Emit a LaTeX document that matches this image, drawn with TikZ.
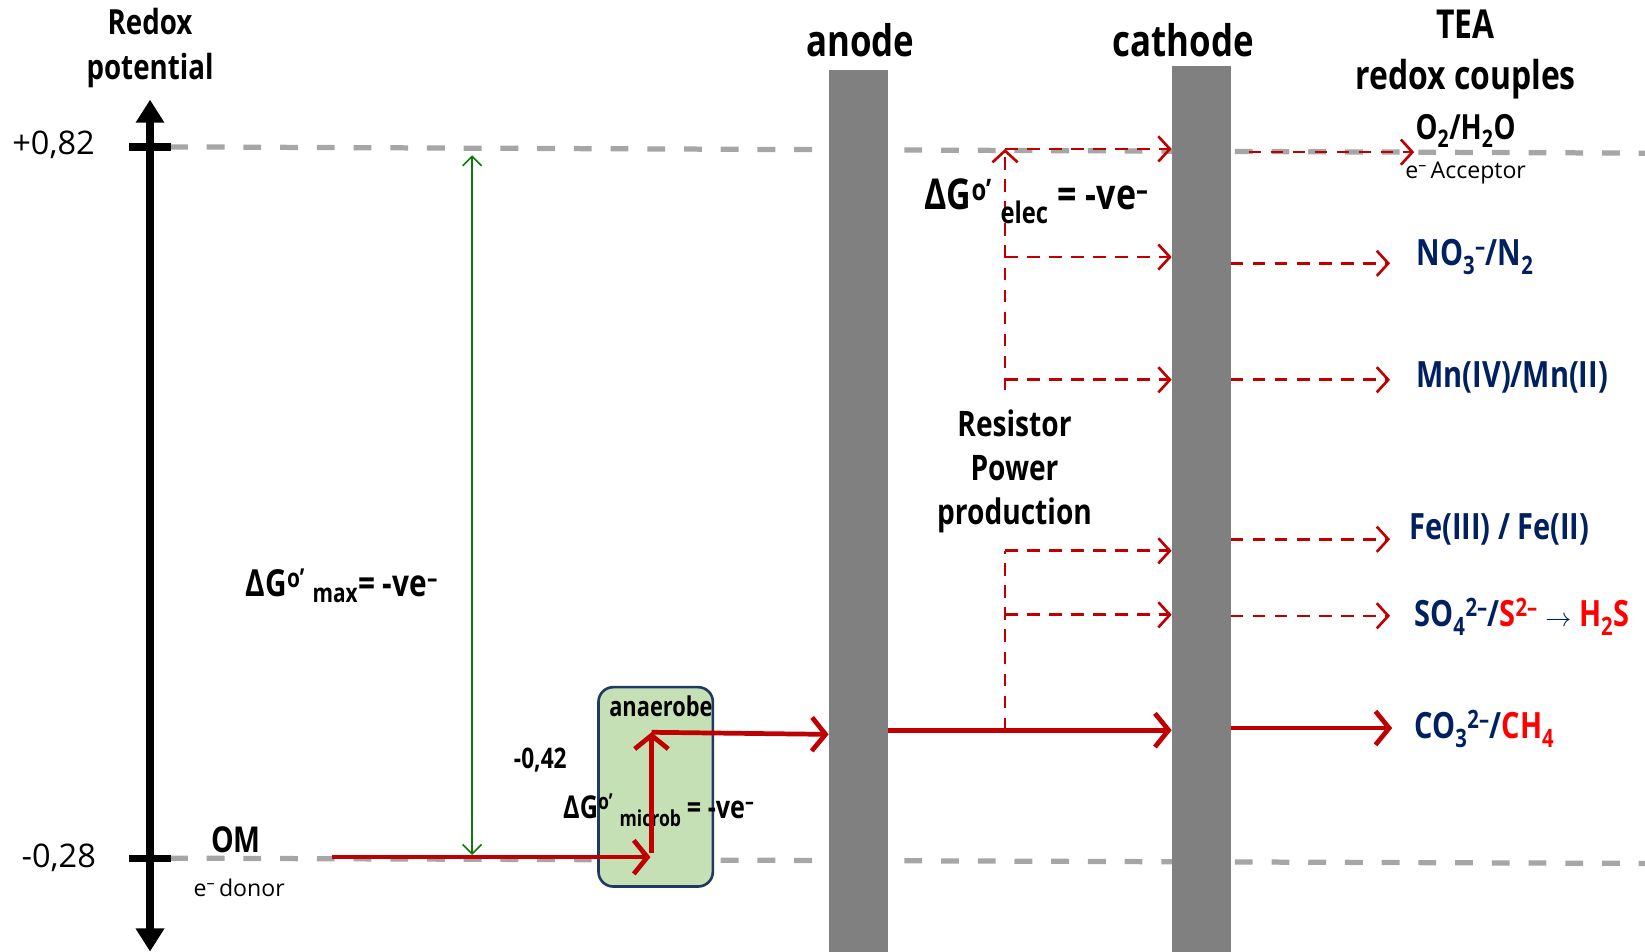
\documentclass[tikz,border=0pt]{standalone}
\usepackage{fontspec}
\setmainfont{Open Sans}[FakeStretch=0.8]
\newfontfamily\plainfont{Open Sans}
\usetikzlibrary{arrows.meta,positioning}
\definecolor{darkred}{HTML}{C00000}
\definecolor{brightred}{HTML}{FF0000}
\definecolor{navy}{HTML}{002060}
\definecolor{elecgray}{HTML}{808080}
\definecolor{linegray}{HTML}{A6A6A6}
\definecolor{boxgreen}{HTML}{C5E0B4}
\definecolor{boxblue}{HTML}{203864}
\definecolor{arrgreen}{HTML}{0A7A0A}
\newcommand{\eminus}{\textsuperscript{–}}

\begin{document}
\begin{tikzpicture}[x=1pt, y=-1pt, every node/.style={inner sep=0pt},
  gridline/.style={linegray, line width=5pt, dash pattern=on 17pt off 18pt},
  axisline/.style={line width=7pt, {Triangle[length=22pt,width=26pt]}-{Triangle[length=22pt,width=26pt]}},
  tickmark/.style={line width=7pt},
  electrode/.style={fill=elecgray, minimum width=56pt},
  redarrow/.style={darkred, line width=4.5pt, -{Straight Barb[length=13pt,width=32pt]}},
  dasharrow/.style={darkred, line width=2.5pt, dash pattern=on 12pt off 9pt, -{Straight Barb[length=11pt,width=24pt]}},
  dashline/.style={darkred, line width=2.5pt, dash pattern=on 12pt off 9pt},
  greenarrow/.style={arrgreen, line width=1.5pt, {Straight Barb[length=9pt,width=18pt]}-{Straight Barb[length=9pt,width=18pt]}},
  microbox/.style={draw=boxblue, line width=2.5pt, fill=boxgreen, rounded corners=14pt, minimum width=109pt, minimum height=190pt},
  axlabel/.style={align=center, font=\bfseries\fontsize{33}{43}\selectfont},
  elabel/.style={font=\bfseries\fontsize{41.5}{50}\selectfont},
  tealabel/.style={align=center, font=\bfseries\fontsize{38}{49}\selectfont},
  potval/.style={font=\plainfont\fontsize{31}{31}\selectfont},
  omlabel/.style={font=\bfseries\fontsize{34}{34}\selectfont},
  note/.style={font=\plainfont\fontsize{22}{22}\selectfont},
  dglabel/.style={font=\bfseries\fontsize{35.5}{35.5}\selectfont},
  dgsmall/.style={font=\bfseries\fontsize{30}{30}\selectfont},
  dgbig/.style={font=\bfseries\fontsize{40.5}{40.5}\selectfont},
  reslabel/.style={align=center, font=\bfseries\fontsize{33.5}{42}\selectfont},
  couple/.style={anchor=west, text=navy, font=\bfseries\fontsize{34.5}{34.5}\selectfont},
  microlabel/.style={font=\bfseries\fontsize{26}{26}\selectfont}]
  \useasboundingbox (0,0) rectangle (1568,907);

  % potential levels
  \coordinate (hi) at (143,140);
  \coordinate (lo) at (143,818);
  \draw[gridline] (162,140) -- (1568,146);
  \draw[gridline] (162,818) -- (1568,823);

  % redox axis
  \coordinate (axtop) at (143,95);
  \coordinate (axbot) at (143,907);
  \draw[axisline] (axbot) -- (axtop);
  \draw[tickmark] ([xshift=-20pt]hi) -- ([xshift=20pt]hi);
  \draw[tickmark] ([xshift=-20pt]lo) -- ([xshift=20pt]lo);
  \node[axlabel] (axname) at (143,46) {Redox\\potential};
  \node[potval] (phi) at (51,138) {+0,82};
  \node[potval] (plo) at (56,818) {-0,28};

  % maximum free energy span
  \coordinate (gtop) at (450,148);
  \coordinate (gbot) at (450,815);
  \draw[greenarrow] (gtop) -- (gbot);
  \node[dglabel] (dgmax) at (326,558) {ΔG\textsuperscript{o’}~\textsubscript{max}= -ve\eminus};

  % electrodes
  \node[electrode, minimum height=840pt] (anode) at (818,487) {};
  \node[electrode, minimum height=844pt] (cathode) at (1145,485) {};
  \node[elabel] (anodelbl) at (820,38) {anode};
  \node[elabel] (cathodelbl) at (1128,38) {cathode};
  \node[tealabel] (tea) at (1397,52) {TEA\\redox couples};

  % donor and microbe
  \node[omlabel] (om) at (225,800) {OM};
  \node[note] (donor) at (228,846) {e\eminus\,donor};
  \node[microbox] (anaer) at (625,750) {};
  \node[microlabel] (anaerlbl) at (630,673) {anaerobe};
  \node[dgsmall] (dgmic) at (515,724) {\fontsize{27}{27}\selectfont -0,42};
  \node[dgsmall] (dgmicrob) at (628,772) {ΔG\textsuperscript{o’}~\textsubscript{microb}\,= -ve\eminus};

  \coordinate (omstart) at (316,817);
  \coordinate (mfoot) at (620,817);
  \coordinate (mbase) at (621,813);
  \coordinate (mtop) at (621,698);
  \coordinate (wire) at (958,696);
  \draw[redarrow] (omstart) -- (mfoot);
  \draw[redarrow] (mbase) -- (mtop);
  \draw[redarrow] (mtop) -- (anode.west |- 0,700);
  \draw[redarrow] (anode.east |- wire) -- (cathode.west |- wire);

  % external circuit
  \coordinate (o2in) at (958,142);
  \coordinate (noin) at (958,245);
  \coordinate (mnin) at (958,362);
  \coordinate (uplow) at (958,372);
  \coordinate (fein) at (958,525);
  \coordinate (soin) at (958,586);
  \draw[dasharrow] (uplow) -- (o2in);
  \draw[dashline] (wire) -- (fein);
  \draw[dasharrow] (o2in) -- (cathode.west |- o2in);
  \draw[dasharrow] (noin) -- (cathode.west |- noin);
  \draw[dasharrow] (mnin) -- (cathode.west |- mnin);
  \draw[dasharrow] (fein) -- (cathode.west |- fein);
  \draw[dasharrow] (soin) -- (cathode.west |- soin);
  \node[dgbig] (dgelec) at (988,192) {ΔG\textsuperscript{o’}~\textsubscript{elec}~= -ve\eminus};
  \node[reslabel] (resistor) at (967,449) {Resistor\\Power\\production};

  % terminal electron acceptors
  \node[dglabel, font=\bfseries\fontsize{33}{33}\selectfont] (o2) at (1397,125) {O\textsubscript{2}/H\textsubscript{2}O};
  \node[note] (acceptor) at (1397,165) {e\eminus\,Acceptor};
  \node[couple] (no3) at (1350,245) {NO\textsubscript{3}\textsuperscript{–}/N\textsubscript{2}};
  \node[couple] (mn) at (1350,360) {Mn(IV)/Mn(II)};
  \node[couple] (fe) at (1343,505) {Fe(III) / Fe(II)};
  \node[couple] (so4) at (1348,588) {SO\textsubscript{4}\textsuperscript{2–}/\textcolor{brightred}{S\textsuperscript{2–}} $\rightarrow$ \textcolor{brightred}{H\textsubscript{2}S}};
  \node[couple] (co3) at (1348,695) {CO\textsubscript{3}\textsuperscript{2–}/\textcolor{brightred}{CH\textsubscript{4}}};

  \coordinate (o2tip) at (1348,145);
  \coordinate (notip) at (1325,251);
  \coordinate (mntip) at (1325,362);
  \coordinate (fetip) at (1325,514);
  \coordinate (sotip) at (1325,587);
  \coordinate (cotip) at (1327,694);
  \draw[dasharrow] ([xshift=17pt]cathode.east |- o2tip) -- (o2tip);
  \draw[dasharrow] (cathode.east |- notip) -- (notip);
  \draw[dasharrow] (cathode.east |- mntip) -- (mntip);
  \draw[dasharrow] (cathode.east |- fetip) -- (fetip);
  \draw[dasharrow] (cathode.east |- sotip) -- (sotip);
  \draw[redarrow] (cathode.east |- cotip) -- (cotip);
\end{tikzpicture}
\end{document}
